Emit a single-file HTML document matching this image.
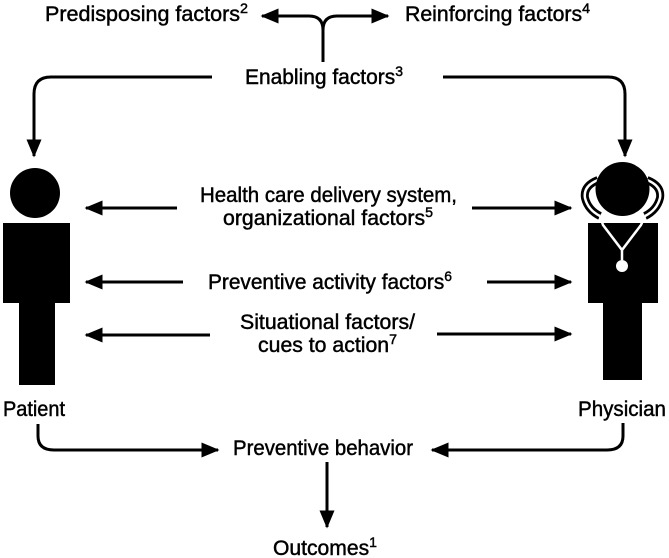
<!DOCTYPE html>
<html><head><meta charset="utf-8"><style>
html,body{margin:0;padding:0;background:#fff;}
svg{display:block;}
text{font-family:"Liberation Sans",Arial,sans-serif;font-size:21px;fill:#000;stroke:#000;stroke-width:0.45px;}
.s{font-size:14px;}
</style></head><body>
<svg width="669" height="558" viewBox="0 0 669 558" xmlns="http://www.w3.org/2000/svg">
<defs>
<marker id="a" markerWidth="6" markerHeight="5" refX="5.5" refY="2.5" orient="auto" markerUnits="strokeWidth">
<path d="M0,0 L6,2.5 L0,5 z" fill="#000"/>
</marker>
</defs>
<g stroke="#000" stroke-width="3" fill="none">
<path d="M323,62 L323,30 Q323,16 309,16 L262,16" marker-end="url(#a)"/>
<path d="M323,30 Q323,16 337,16 L388,16" marker-end="url(#a)"/>
<path d="M212,77 L51,77 Q34,77 34,94 L34,156" marker-end="url(#a)"/>
<path d="M443,77 L608,77 Q625,77 625,94 L625,156" marker-end="url(#a)"/>
<path d="M177,208 L86,208" marker-end="url(#a)"/>
<path d="M472,208 L571,208" marker-end="url(#a)"/>
<path d="M183,282 L86,282" marker-end="url(#a)"/>
<path d="M487,282 L571,282" marker-end="url(#a)"/>
<path d="M210,335 L86,335" marker-end="url(#a)"/>
<path d="M437,334 L571,334" marker-end="url(#a)"/>
<path d="M38,424 L38,436 Q38,450 54,450 L218,450" marker-end="url(#a)"/>
<path d="M623,423 L623,436 Q623,450 607,450 L432,450" marker-end="url(#a)"/>
<path d="M327,462 L327,527" marker-end="url(#a)"/>
</g>
<circle cx="35" cy="193" r="25" fill="#000"/>
<rect x="3" y="223" width="67" height="80" fill="#000"/>
<rect x="19" y="300" width="36" height="85" fill="#000"/>
<rect x="588" y="223" width="70" height="80" fill="#000"/>
<rect x="603" y="300" width="39" height="80" fill="#000"/>
<path d="M598,180 Q583,186 585,198 Q588,210 600,216 M647,180 Q662,186 660,198 Q657,210 645,216" stroke="#000" stroke-width="8" fill="none"/>
<path d="M598,180 Q583,186 585,198 Q588,210 600,216 M647,180 Q662,186 660,198 Q657,210 645,216" stroke="#fff" stroke-width="2.5" fill="none"/>
<circle cx="622.5" cy="189" r="27" fill="#000"/>
<path d="M600,216 L603,225 L622,250 L641,225 L645,216 M622,250 L622,260" stroke="#fff" stroke-width="2.5" fill="none"/>
<circle cx="622" cy="266" r="6" fill="#fff"/>
<text x="45" y="21" textLength="203" lengthAdjust="spacingAndGlyphs">Predisposing factors<tspan class="s" dy="-8">2</tspan></text>
<text x="405" y="21" textLength="185" lengthAdjust="spacingAndGlyphs">Reinforcing factors<tspan class="s" dy="-8">4</tspan></text>
<text x="245" y="84" textLength="158" lengthAdjust="spacingAndGlyphs">Enabling factors<tspan class="s" dy="-8">3</tspan></text>
<text x="200" y="202" textLength="257" lengthAdjust="spacingAndGlyphs">Health care delivery system,</text>
<text x="223" y="225" textLength="210" lengthAdjust="spacingAndGlyphs">organizational factors<tspan class="s" dy="-8">5</tspan></text>
<text x="208" y="289" textLength="244" lengthAdjust="spacingAndGlyphs">Preventive activity factors<tspan class="s" dy="-8">6</tspan></text>
<text x="240" y="329" textLength="175" lengthAdjust="spacingAndGlyphs">Situational factors/</text>
<text x="258" y="352" textLength="139" lengthAdjust="spacingAndGlyphs">cues to action<tspan class="s" dy="-8">7</tspan></text>
<text x="3" y="416" textLength="62" lengthAdjust="spacingAndGlyphs">Patient</text>
<text x="578" y="416" textLength="88" lengthAdjust="spacingAndGlyphs">Physician</text>
<text x="233" y="455" textLength="180" lengthAdjust="spacingAndGlyphs">Preventive behavior</text>
<text x="273" y="555" textLength="104" lengthAdjust="spacingAndGlyphs">Outcomes<tspan class="s" dy="-8">1</tspan></text>
</svg>
</body></html>
